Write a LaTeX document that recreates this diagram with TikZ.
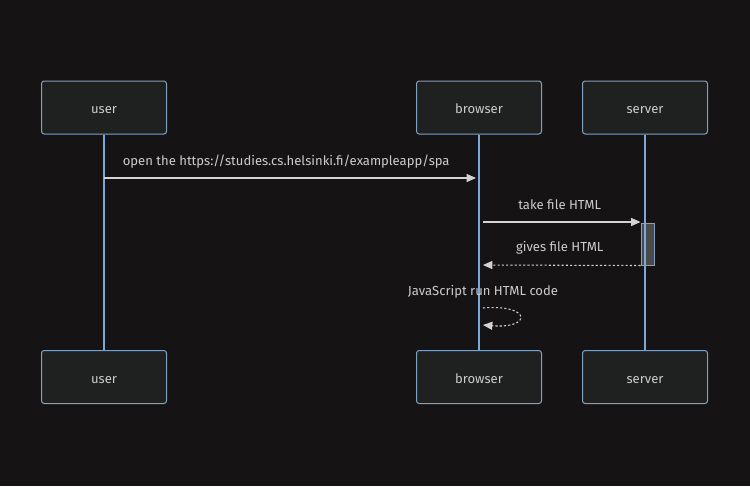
\documentclass[tikz,border=0pt]{standalone}
\usepackage{fontspec}
\setmainfont{Fira Sans}
\usetikzlibrary{arrows.meta}
\definecolor{bg}{HTML}{161314}
\definecolor{actorfill}{HTML}{1F2020}
\definecolor{actorline}{HTML}{81A1C1}
\definecolor{lifeline}{HTML}{7AA8DA}
\definecolor{msg}{HTML}{D3D3D3}
\definecolor{txt}{HTML}{CCCCCC}
\definecolor{actfill}{HTML}{4A4A4A}
\tikzset{
  actor/.style={draw=actorline, fill=actorfill, rounded corners=2pt, line width=0.75pt,
    minimum width=93.75pt, minimum height=39.75pt, text=txt, font=\fontsize{9.8}{11}\selectfont,
    text height=10pt, text depth=0.5pt},
  activation/.style={draw=actorline, fill=actfill, line width=0.75pt,
    minimum width=9.75pt, minimum height=31.5pt, inner sep=0pt},
  message/.style={draw=msg, line width=0.8pt, -{Triangle[length=7pt,width=6pt]}},
  reply/.style={message, dash pattern=on 1.6pt off 1.6pt},
  msglabel/.style={text=txt, font=\fontsize{9.8}{11}\selectfont, inner sep=0pt},
}
\begin{document}
\begin{tikzpicture}[x=0.75pt,y=-0.75pt]
    \fill[bg] (0,0) rectangle (750,486);
    \useasboundingbox (0,0) rectangle (750,486);

    % Actors
    \foreach \name/\x in {user/104, browser/479, server/645}{
      \node[actor] (\name) at (\x,107.5) {\name};
      \node[actor] (\name-end) at (\x,377) {\name};
    }

    % Activation
    \node[activation] (act) at (647.5,244) {};

    % Lifelines
    \foreach \name in {user,browser,server}{
      \draw[lifeline, line width=1.1pt] (\name.south) -- (\name-end.north);
    }

    % Message rows
    \coordinate (row1) at (0,178);
    \coordinate (row2) at (0,222);
    \coordinate (row3) at (0,265);

    % Messages
    \draw[message, shorten >=2.25pt] (user|-row1) -- (browser|-row1)
      node[msglabel, midway, yshift=12pt, xshift=-4pt] {open the https://studies.cs.helsinki.fi/exampleapp/spa};
    \draw[message, shorten <=3pt] (browser|-row2) -- (act.west|-row2)
      node[msglabel, midway, yshift=12.75pt] {take file HTML};
    \draw[reply, shorten >=3pt] (act.south west) -- (browser|-row3)
      node[msglabel, midway, yshift=12.75pt] {gives file HTML};

    % Self message
    \coordinate (self in) at (483,308);
    \coordinate (self out) at (483,325);
    \node[msglabel] (self label) at (483,291.5) {JavaScript run HTML code};
    \draw[reply] (self in) .. controls (532,304) and (532,329) .. (self out);

\end{tikzpicture}
\end{document}
